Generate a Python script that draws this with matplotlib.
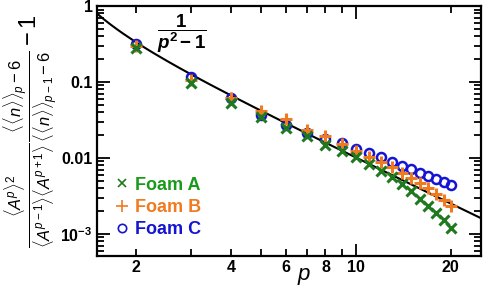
import numpy as np
import matplotlib
matplotlib.use("Agg")
import matplotlib.pyplot as plt
from matplotlib.ticker import FixedLocator, FixedFormatter, NullFormatter
from matplotlib.lines import Line2D

plt.rcParams['font.family'] = ['Liberation Sans', 'DejaVu Sans']
plt.rcParams['mathtext.fontset'] = 'custom'
plt.rcParams['mathtext.rm'] = 'Liberation Sans'
plt.rcParams['mathtext.it'] = 'Liberation Sans:italic'
plt.rcParams['mathtext.bf'] = 'Liberation Sans:bold'
plt.rcParams['mathtext.bfit'] = 'Liberation Sans:bold:italic'

# data
p = [2, 3, 4, 5, 6, 7, 8, 9, 10, 11, 12, 13, 14, 15, 16, 17, 18, 19, 20]
foam_a = [0.28, 0.098, 0.0534, 0.0343, 0.0246, 0.0195, 0.0150, 0.0125, 0.0102, 0.00834,
          0.0068, 0.00557, 0.00455, 0.00368, 0.00289, 0.00233, 0.00187, 0.00153, 0.00121]
foam_b = [0.30, 0.106, 0.062, 0.0419, 0.0323, 0.0234, 0.0195, 0.0153, 0.0125, 0.0104,
          0.00894, 0.00754, 0.00641, 0.0054, 0.00465, 0.00399, 0.00336, 0.0028, 0.00233]
foam_c = [0.316, 0.115, 0.061, 0.0368, 0.0272, 0.0211, 0.0176, 0.0156, 0.0131, 0.01153,
          0.0102, 0.00895, 0.00792, 0.0071, 0.00641, 0.0058, 0.00525, 0.00479, 0.00437]

green, orange, blue = '#1f7a1f', '#f07a20', '#1414d2'
green_txt = '#1a9a1a'

fig = plt.figure(figsize=(4.84, 2.87), dpi=100)
ax = fig.add_axes([0.2, 0.108, 0.794, 0.871])

pp = np.linspace(1.5, 25, 300)
ax.plot(pp, 1 / (pp**2 - 1), color='black', lw=1.5, zorder=1)

ax.plot(p, foam_c, ls='none', marker='o', ms=6.5, mfc='none', mec=blue, mew=1.8, zorder=2)
ax.plot(p, foam_b, ls='none', marker='+', ms=9, mec=orange, mew=2.2, zorder=3)
ax.plot(p, foam_a, ls='none', marker='x', ms=6.5, mec=green, mew=2.2, zorder=4)

ax.set_xscale('log')
ax.set_yscale('log')
ax.set_xlim(1.5, 25)
ax.set_ylim(5.1e-4, 1)

ax.xaxis.set_major_locator(FixedLocator([10]))
ax.xaxis.set_major_formatter(FixedFormatter(['10']))
ax.xaxis.set_minor_locator(FixedLocator([2, 3, 4, 5, 6, 7, 8, 9, 20]))
ax.xaxis.set_minor_formatter(FixedFormatter(['2', '', '4', '', '6', '', '8', '', '20']))

ax.yaxis.set_major_locator(FixedLocator([1e-3, 1e-2, 1e-1, 1]))
ax.yaxis.set_major_formatter(FixedFormatter([r'$\mathbf{10^{-3}}$', '0.01', '0.1', '1']))
yminor = [m * 10.0**e for e in range(-4, 0) for m in range(2, 10)]
ax.yaxis.set_minor_locator(FixedLocator(yminor))
ax.yaxis.set_minor_formatter(NullFormatter())

ax.tick_params(which='both', direction='in', top=True, right=True, width=1.3)
ax.tick_params(which='major', length=9, labelsize=11.5, pad=3)
ax.tick_params(which='minor', length=5, labelsize=11.5, pad=3)
for lab in ax.get_xticklabels(which='both') + ax.get_yticklabels():
    lab.set_fontweight('bold')
for s in ax.spines.values():
    s.set_linewidth(1.6)

ax.set_xlabel(r'$p$', fontsize=16, labelpad=-6)
ax.xaxis.set_label_coords(0.54, -0.04)
ax.set_ylabel(r'$\frac{\langle A^p\rangle^2}{\langle A^{p-1}\rangle\langle A^{p+1}\rangle}'
              r'\frac{\langle\langle n\rangle\rangle_p-6}{\langle\langle n\rangle\rangle_{p-1}-6}-1$',
              fontsize=17, labelpad=1)

ax.text(0.22, 0.89, r'$\mathbf{\dfrac{1}{\mathbfit{p}^2-1}}$', transform=ax.transAxes,
        fontsize=13.5, ha='center', va='center')

handles = [Line2D([], [], ls='none', marker='x', ms=6, mec=green, mew=1.2),
           Line2D([], [], ls='none', marker='+', ms=9, mec=orange, mew=1.2),
           Line2D([], [], ls='none', marker='o', ms=6, mfc='none', mec=blue, mew=1.2)]
leg = ax.legend(handles, ['Foam A', 'Foam B', 'Foam C'], loc='lower left',
                bbox_to_anchor=(0.015, 0.02), frameon=False, handlelength=0.8,
                handletextpad=0.3, labelspacing=0.3, borderaxespad=0.3,
                prop={'weight': 'bold', 'size': 13})
for t, c in zip(leg.get_texts(), [green_txt, orange, blue]):
    t.set_color(c)

fig.savefig('out.png', dpi=100)
